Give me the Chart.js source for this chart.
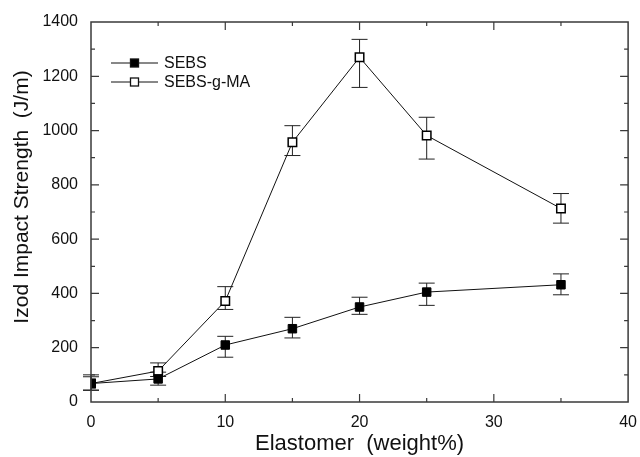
<!DOCTYPE html>
<html>
<head>
<meta charset="utf-8">
<script src="https://cdn.jsdelivr.net/npm/chart.js@4.4.0/dist/chart.umd.min.js"></script>
<style>
  html, body { margin: 0; padding: 0; background: #fff; }
  #box { width: 640px; height: 457px; }
</style>
</head>
<body>
<div id="box"><canvas id="myChart"></canvas></div>
<script>
'use strict';

// data
const loadings = [0, 5, 10, 15, 20, 25, 35];
const sebs = [68, 85, 210, 270, 350, 405, 432];
const sebsUp = [25, 25, 32, 42, 36, 33, 40];
const sebsDown = [25, 23, 45, 34, 27, 49, 37];
const sebsMA = [68, 114, 372, 957, 1270, 982, 713];
const sebsMAUp = [32, 30, 53, 61, 66, 67, 55];
const sebsMADown = [24, 20, 31, 49, 111, 87, 54];
const xTicks = [0, 10, 20, 30, 40];
const yTicks = [0, 200, 400, 600, 800, 1000, 1200, 1400];

const FONT = 'Liberation Sans, Arial, sans-serif';
const AXIS = '#3a3a3a';

function points(ys){
  return loadings.map((x, i) => ({x: x, y: ys[i]}));
}

// error bars, drawn under the markers
const errorBars = {
  id: 'errorBars',
  beforeDatasetsDraw(chart){
    const ctx = chart.ctx;
    const xs = chart.scales.x;
    const ys = chart.scales.y;
    ctx.save();
    ctx.strokeStyle = '#222';
    ctx.lineWidth = 1;
    chart.data.datasets.forEach(ds => {
      ds.data.forEach((p, i) => {
        const px = xs.getPixelForValue(p.x);
        const top = ys.getPixelForValue(p.y + ds.errUp[i]);
        const bot = ys.getPixelForValue(p.y - ds.errDown[i]);
        ctx.beginPath();
        ctx.moveTo(px, top); ctx.lineTo(px, bot);
        ctx.moveTo(px - 8, top); ctx.lineTo(px + 8, top);
        ctx.moveTo(px - 8, bot); ctx.lineTo(px + 8, bot);
        ctx.stroke();
      });
    });
    ctx.restore();
  }
};

// box round the plot with inward ticks on all four sides, plus the y title
const frame = {
  id: 'frame',
  afterDraw(chart){
    const ctx = chart.ctx;
    const a = chart.chartArea;
    const xs = chart.scales.x;
    const ys = chart.scales.y;
    ctx.save();
    ctx.strokeStyle = AXIS;
    ctx.lineWidth = 1.5;
    ctx.strokeRect(a.left, a.top, a.right - a.left, a.bottom - a.top);
    ctx.lineWidth = 1.2;
    ctx.beginPath();
    for (let v = 5; v < 40; v += 5){
      const len = v % 10 === 0 ? 8 : 4;
      const px = xs.getPixelForValue(v);
      ctx.moveTo(px, a.bottom); ctx.lineTo(px, a.bottom - len);
      ctx.moveTo(px, a.top); ctx.lineTo(px, a.top + len);
    }
    for (let v = 100; v < 1400; v += 100){
      const len = v % 200 === 0 ? 8 : 4;
      const py = ys.getPixelForValue(v);
      ctx.moveTo(a.left, py); ctx.lineTo(a.left + len, py);
      ctx.moveTo(a.right, py); ctx.lineTo(a.right - len, py);
    }
    ctx.stroke();

    // y title sits a bit above the middle in the original
    ctx.translate(22, 197);
    ctx.rotate(-Math.PI / 2);
    ctx.font = '21px ' + FONT;
    ctx.fillStyle = '#111';
    ctx.textAlign = 'center';
    ctx.textBaseline = 'middle';
    ctx.fillText('Izod Impact Strength  (J/m)', 0, 0);
    ctx.restore();
  }
};

// legend inside the plot: line - marker - line, then the name
const insideLegend = {
  id: 'insideLegend',
  afterDraw(chart){
    const ctx = chart.ctx;
    const a = chart.chartArea;
    ctx.save();
    ctx.font = '16px ' + FONT;
    ctx.textBaseline = 'middle';
    chart.data.datasets.forEach((ds, i) => {
      const y = a.top + 41 + i * 19;
      const x0 = a.left + 20;
      ctx.strokeStyle = '#111';
      ctx.lineWidth = 1;
      ctx.beginPath();
      ctx.moveTo(x0, y); ctx.lineTo(x0 + 47, y);
      ctx.stroke();
      ctx.fillStyle = ds.pointBackgroundColor;
      ctx.fillRect(x0 + 19.5, y - 4, 8, 8);
      ctx.lineWidth = 1.3;
      ctx.strokeRect(x0 + 19.5, y - 4, 8, 8);
      ctx.fillStyle = '#111';
      ctx.fillText(ds.label, x0 + 53, y + 1);
    });
    ctx.restore();
  }
};

const ctx = document.getElementById('myChart').getContext('2d');
const chart = new Chart(ctx, {
  type: 'scatter',
  data: {
    datasets: [{
      label: 'SEBS',
      data: points(sebs),
      errUp: sebsUp,
      errDown: sebsDown,
      showLine: true,
      borderColor: '#111',
      borderWidth: 1,
      pointStyle: 'rect',
      pointRadius: 6,
      pointBorderWidth: 1,
      pointBackgroundColor: '#000',
      pointBorderColor: '#000'
    },
    {
      label: 'SEBS-g-MA',
      data: points(sebsMA),
      errUp: sebsMAUp,
      errDown: sebsMADown,
      showLine: true,
      borderColor: '#111',
      borderWidth: 1,
      pointStyle: 'rect',
      pointRadius: 6,
      pointBorderWidth: 1.5,
      pointBackgroundColor: '#fff',
      pointBorderColor: '#000'
    }]
  },
  options: {
    responsive: true,
    maintainAspectRatio: false,
    animation: false,
    layout: { padding: { top: 22, right: 9, left: 0, bottom: 0 } },
    plugins: {
      legend: { display: false },
      tooltip: { enabled: false }
    },
    scales: {
      x: {
        type: 'linear',
        min: 0,
        max: 40,
        afterBuildTicks: s => { s.ticks = xTicks.map(v => ({value: v})); },
        afterFit: s => { s.height = 55; },
        grid: { display: false },
        border: { display: false },
        ticks: {
          color: '#111',
          font: { family: FONT, size: 16 },
          padding: 3,
          maxRotation: 0,
          callback: v => String(v)
        },
        title: {
          display: true,
          text: 'Elastomer  (weight%)',
          color: '#111',
          font: { family: FONT, size: 22 },
          padding: { top: 0, bottom: 0 }
        }
      },
      y: {
        min: 0,
        max: 1400,
        afterBuildTicks: s => { s.ticks = yTicks.map(v => ({value: v})); },
        afterFit: s => { s.width = 91; },
        grid: { display: false },
        border: { display: false },
        ticks: {
          color: '#111',
          font: { family: FONT, size: 16 },
          padding: 5,
          callback: v => String(v)
        }
      }
    }
  },
  plugins: [errorBars, frame, insideLegend]
});
</script>
</body>
</html>
